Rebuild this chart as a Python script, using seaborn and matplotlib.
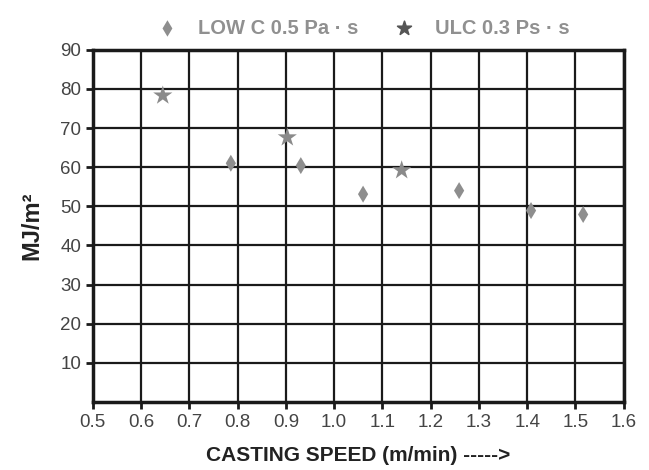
import numpy as np
import pandas as pd
import matplotlib
matplotlib.use('Agg')
import matplotlib.pyplot as plt
import seaborn as sns

# data
low_c_speed = [0.786, 0.931, 1.06, 1.259, 1.408, 1.516]
low_c_energy = [61.0, 60.4, 53.1, 54.0, 48.9, 47.9]
ulc_speed = [0.645, 0.903, 1.14]
ulc_energy = [78.3, 67.6, 59.2]
series_names = ['LOW C 0.5 Pa \u00b7 s', 'ULC 0.3 Ps \u00b7 s']

low_df = pd.DataFrame({'speed': low_c_speed, 'energy': low_c_energy})
ulc_df = pd.DataFrame({'speed': ulc_speed, 'energy': ulc_energy})

sns.set_theme(style='white')
plt.rcParams['font.family'] = ['Liberation Sans', 'DejaVu Sans']

fig = plt.figure(figsize=(6.49, 4.70), dpi=100)
ax = fig.add_axes([0.143, 0.145, 0.818, 0.749])

sns.scatterplot(data=low_df, x='speed', y='energy', marker='d', color='#8e8e8e',
                s=75, edgecolor='none', ax=ax, zorder=3, label=series_names[0])
sns.scatterplot(data=ulc_df, x='speed', y='energy', marker='*', color='#8a8a8a',
                s=210, edgecolor='none', ax=ax, zorder=3, label=series_names[1])

ax.set_xlim(0.5, 1.6)
ax.set_ylim(0, 90)
ax.set_xticks(np.arange(0.5, 1.61, 0.1))
ax.set_xticklabels([f'{v:.1f}' for v in np.arange(0.5, 1.61, 0.1)])
ax.set_yticks(np.arange(10, 91, 10))
ax.grid(True, color='#1a1a1a', linewidth=1.6)
ax.set_axisbelow(True)
for sp in ax.spines.values():
    sp.set_color('#1a1a1a')
    sp.set_linewidth(2.5)
ax.tick_params(axis='both', direction='out', length=5, width=2, color='#1a1a1a',
               labelsize=13.5, labelcolor='#444444', bottom=True, left=True)

ax.set_xlabel('CASTING SPEED (m/min) ----->', fontsize=15, fontweight='bold',
              color='#222222', labelpad=11)
ax.set_ylabel('MJ/m\u00b2', fontsize=17, fontweight='bold', color='#222222', labelpad=12)

handles, labels = ax.get_legend_handles_labels()
leg = ax.legend(handles, labels, loc='lower center', bbox_to_anchor=(0.5, 1.0), ncol=2,
                frameon=False, prop={'size': 14.5, 'weight': 'bold'}, labelcolor='#909090',
                handletextpad=0.5, columnspacing=1.3, borderaxespad=0.2)
leg.legend_handles[0].set_sizes([70])
leg.legend_handles[1].set_sizes([110])
leg.legend_handles[1].set_color('#555555')

fig.savefig('out.png', dpi=100)
